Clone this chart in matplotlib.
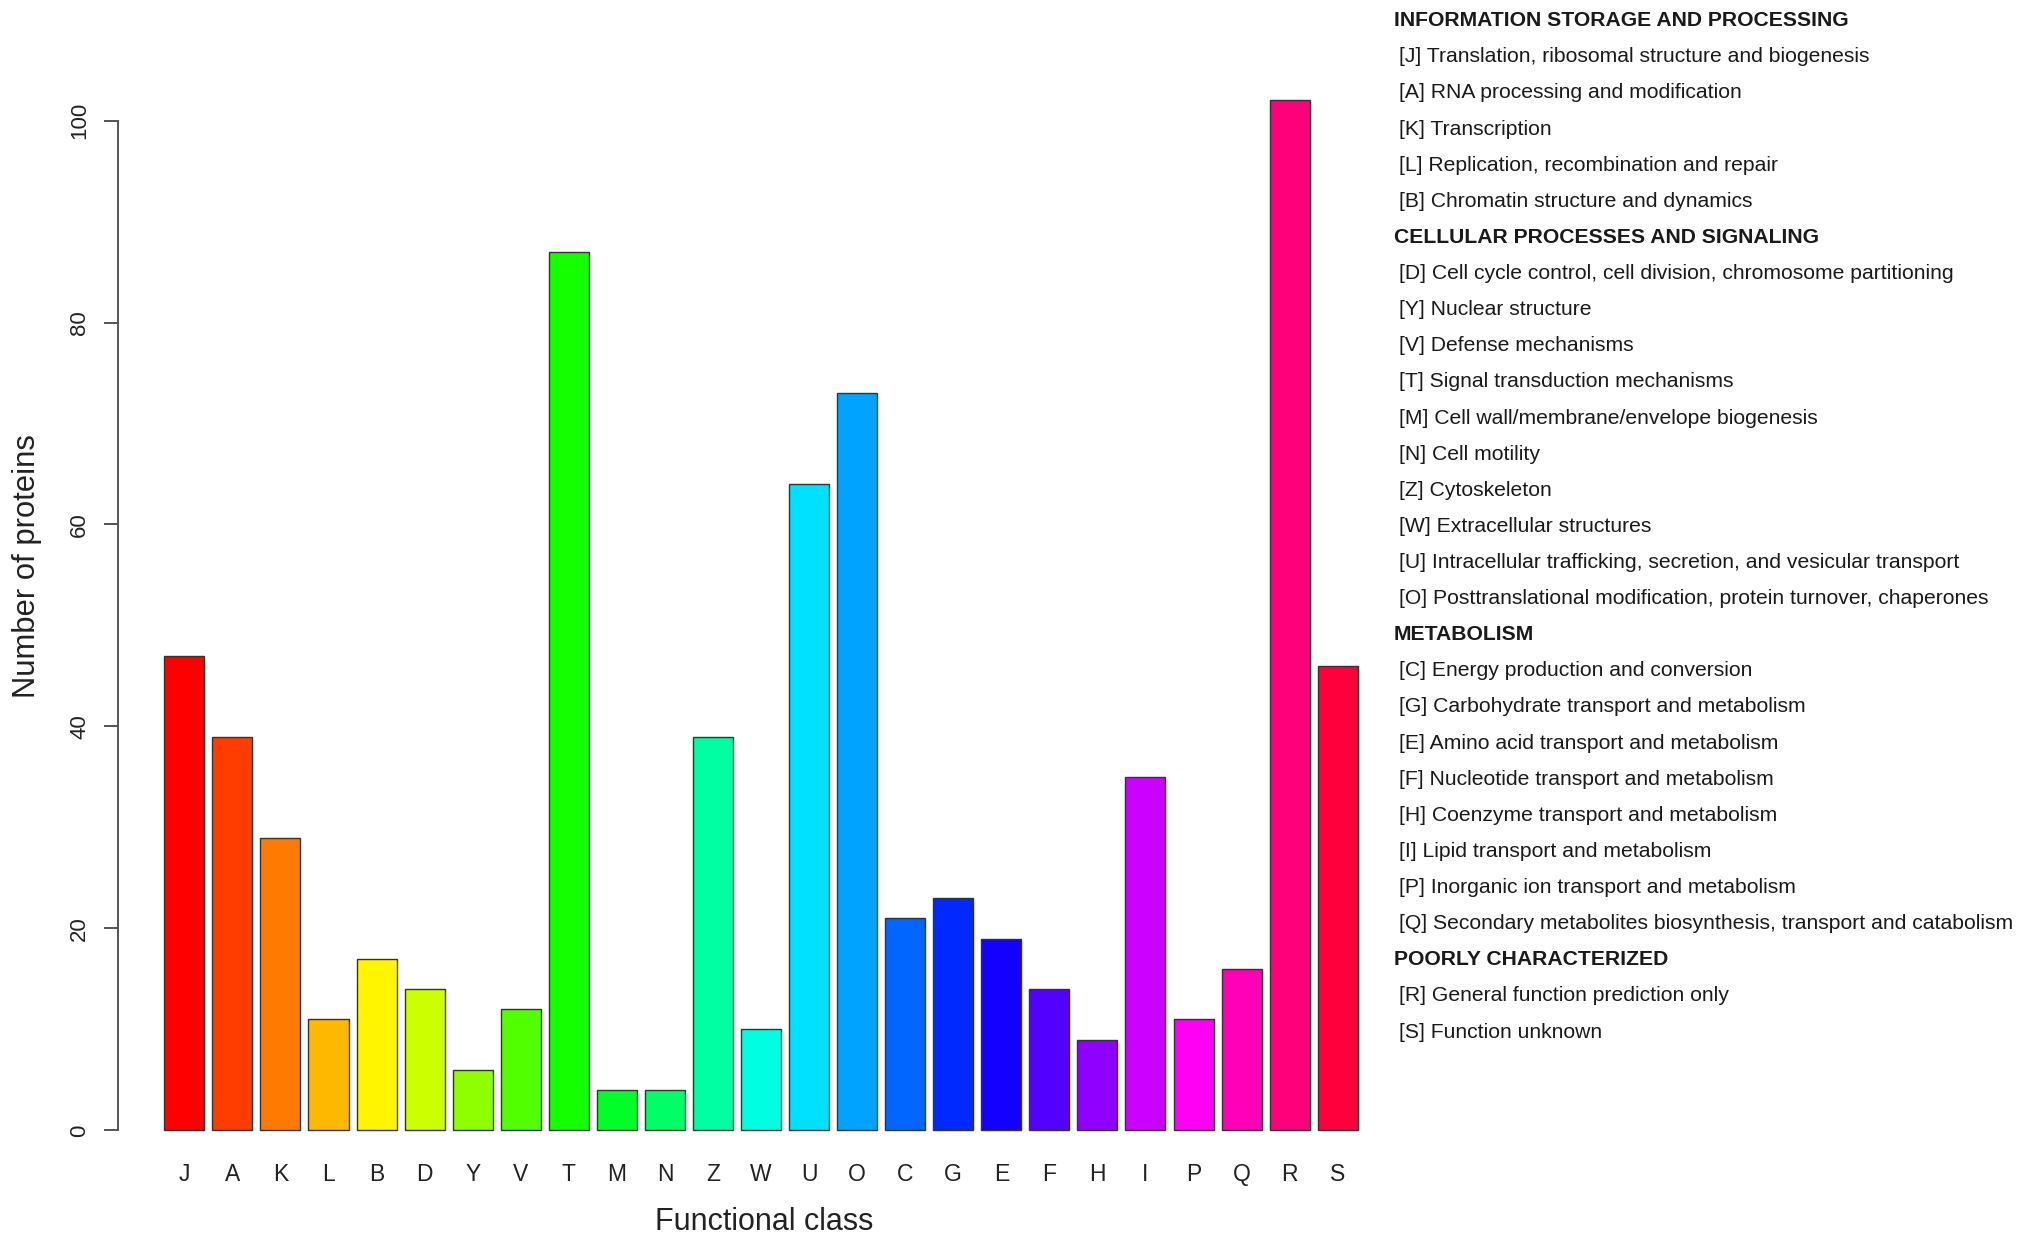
import matplotlib
matplotlib.use("Agg")
import matplotlib.pyplot as plt
import matplotlib.colors as mcolors
import numpy as np

plt.rcParams['font.family'] = ['Liberation Sans', 'DejaVu Sans']

categories = ["J", "A", "K", "L", "B", "D", "Y", "V", "T", "M", "N", "Z", "W",
              "U", "O", "C", "G", "E", "F", "H", "I", "P", "Q", "R", "S"]
counts = [47, 39, 29, 11, 17, 14, 6, 12, 87, 4, 4, 39, 10,
          64, 73, 21, 23, 19, 14, 9, 35, 11, 16, 102, 46]
yticks = [0, 20, 40, 60, 80, 100]

legend_groups = [
    ("INFORMATION STORAGE AND PROCESSING", [
        "[J] Translation, ribosomal structure and biogenesis",
        "[A] RNA processing and modification",
        "[K] Transcription",
        "[L] Replication, recombination and repair",
        "[B] Chromatin structure and dynamics",
    ]),
    ("CELLULAR PROCESSES AND SIGNALING", [
        "[D] Cell cycle control, cell division, chromosome partitioning",
        "[Y] Nuclear structure",
        "[V] Defense mechanisms",
        "[T] Signal transduction mechanisms",
        "[M] Cell wall/membrane/envelope biogenesis",
        "[N] Cell motility",
        "[Z] Cytoskeleton",
        "[W] Extracellular structures",
        "[U] Intracellular trafficking, secretion, and vesicular transport",
        "[O] Posttranslational modification, protein turnover, chaperones",
    ]),
    ("METABOLISM", [
        "[C] Energy production and conversion",
        "[G] Carbohydrate transport and metabolism",
        "[E] Amino acid transport and metabolism",
        "[F] Nucleotide transport and metabolism",
        "[H] Coenzyme transport and metabolism",
        "[I] Lipid transport and metabolism",
        "[P] Inorganic ion transport and metabolism",
        "[Q] Secondary metabolites biosynthesis, transport and catabolism",
    ]),
    ("POORLY CHARACTERIZED", [
        "[R] General function prediction only",
        "[S] Function unknown",
    ]),
]

# R-like rainbow palette
n = len(categories)
colors = [mcolors.hsv_to_rgb((i / n, 1.0, 1.0)) for i in range(n)]

fig = plt.figure(figsize=(20.31, 12.47), dpi=100)
ax = fig.add_axes([0.0580, 0.0604, 0.692 - 0.0580, 0.9526 - 0.0604])

# R barplot geometry: width 1, space 0.2
x = 0.2 + np.arange(n) * 1.2 + 0.5
ax.bar(x, counts, width=1.0, color=colors, edgecolor='#333333', linewidth=1.0)

xmin, xmax = 0.2, x[-1] + 0.5
ext = 0.04 * (xmax - xmin)
ax.set_xlim(xmin - ext + 0.03, xmax + ext)
ymax = max(counts)
ax.set_ylim(-0.04 * ymax, ymax * 1.04)

for s in ['top', 'right', 'bottom']:
    ax.spines[s].set_visible(False)
ax.spines['left'].set_bounds(0, 100)
ax.spines['left'].set_color('#555555')
ax.spines['left'].set_linewidth(1.4)

ax.set_yticks(yticks)
ax.set_yticklabels([str(v) for v in yticks], rotation=90, va='center', fontsize=16, color='#222222')
ax.tick_params(axis='y', length=10, width=1.4, color='#555555', pad=10)

ax.set_xticks(x)
ax.set_xticklabels(categories, fontsize=16.5, color='#222222')
ax.tick_params(axis='x', length=0, pad=-6)

# axis titles in figure coordinates
fig.text(590 / 1568, 1 - 944 / 963, "Functional class", fontsize=22,
         ha='center', va='center', color='#222222')
fig.text(21 / 1568, 1 - 437 / 963, "Number of proteins", fontsize=22.3,
         rotation=90, ha='center', va='center', color='#222222')

# Legend text block
y0 = 1 - 16 / 963
y1 = 1 - 797 / 963
nrows = sum(1 + len(items) for _, items in legend_groups)
step = (y0 - y1) / (nrows - 1)
row = 0
for head, items in legend_groups:
    fig.text(0.6862, y0 - row * step, head, fontsize=15.2, fontweight='bold',
             va='center', ha='left', color='#1a1a1a')
    row += 1
    for it in items:
        fig.text(0.6888, y0 - row * step, it, fontsize=15.2, va='center',
                 ha='left', color='#1a1a1a')
        row += 1

fig.savefig("out.png", dpi=100, facecolor='white')
